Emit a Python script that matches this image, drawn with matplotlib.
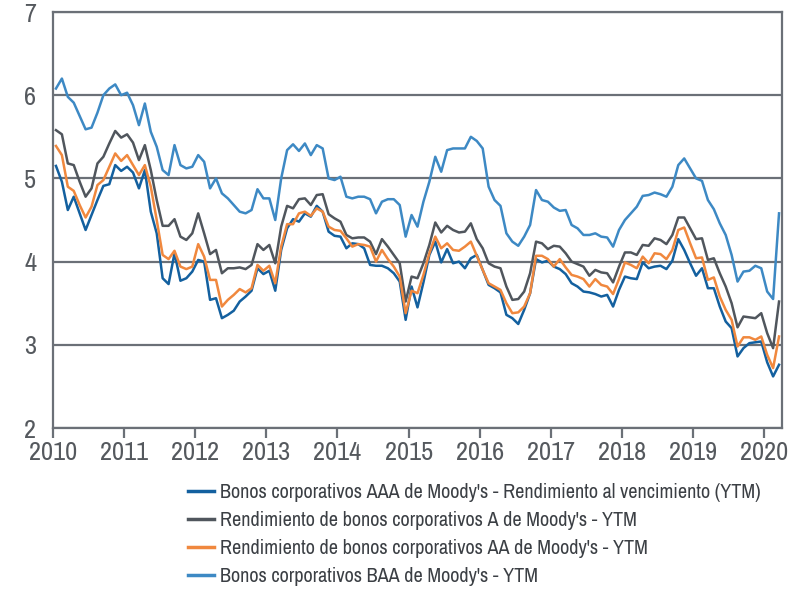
import os
import numpy as np
import matplotlib
matplotlib.use("Agg")
import matplotlib.pyplot as plt
from matplotlib import font_manager as fm

# Monthly yields, Jan 2010 - Mar 2020
aaa = [5.15, 4.96, 4.62, 4.78, 4.58, 4.38, 4.56, 4.74, 4.91, 4.93,
       5.16, 5.09, 5.14, 5.07, 4.88, 5.10, 4.60, 4.34, 3.80, 3.73,
       4.10, 3.77, 3.80, 3.88, 4.02, 4.00, 3.54, 3.56, 3.32, 3.36,
       3.41, 3.52, 3.58, 3.65, 3.92, 3.85, 3.89, 3.65, 4.14, 4.40,
       4.51, 4.48, 4.58, 4.54, 4.67, 4.60, 4.36, 4.31, 4.30, 4.16,
       4.22, 4.21, 4.16, 3.96, 3.95, 3.95, 3.92, 3.86, 3.76, 3.30,
       3.70, 3.45, 3.75, 4.08, 4.24, 3.99, 4.15, 3.98, 4.00, 3.92,
       4.04, 4.08, 3.90, 3.72, 3.68, 3.63, 3.36, 3.32, 3.25, 3.42,
       3.62, 4.03, 3.99, 4.01, 3.94, 3.91, 3.85, 3.74, 3.70, 3.64,
       3.63, 3.61, 3.58, 3.60, 3.46, 3.66, 3.82, 3.80, 3.79, 3.99,
       3.92, 3.94, 3.95, 3.91, 4.01, 4.27, 4.14, 3.98, 3.83, 3.92,
       3.68, 3.68, 3.46, 3.28, 3.20, 2.86, 2.96, 3.02, 3.03, 3.04,
       2.79, 2.62, 2.76]

a = [5.58, 5.53, 5.18, 5.16, 4.96, 4.78, 4.88, 5.18, 5.26, 5.42,
     5.57, 5.49, 5.53, 5.43, 5.22, 5.40, 5.10, 4.74, 4.43, 4.43,
     4.51, 4.30, 4.26, 4.34, 4.58, 4.34, 4.09, 4.14, 3.86, 3.92,
     3.92, 3.93, 3.91, 3.96, 4.21, 4.14, 4.20, 3.98, 4.42, 4.67,
     4.64, 4.75, 4.76, 4.68, 4.80, 4.81, 4.57, 4.52, 4.48, 4.32,
     4.28, 4.29, 4.29, 4.24, 4.09, 4.27, 4.18, 4.08, 3.98, 3.52,
     3.82, 3.80, 3.98, 4.20, 4.47, 4.35, 4.43, 4.38, 4.35, 4.36,
     4.46, 4.27, 4.16, 3.98, 3.94, 3.92, 3.70, 3.54, 3.55, 3.64,
     3.86, 4.24, 4.22, 4.15, 4.19, 4.18, 4.10, 4.00, 3.97, 3.94,
     3.83, 3.90, 3.87, 3.86, 3.75, 3.94, 4.11, 4.11, 4.08, 4.20,
     4.19, 4.28, 4.26, 4.21, 4.32, 4.53, 4.53, 4.40, 4.27, 4.28,
     4.02, 4.04, 3.86, 3.70, 3.50, 3.21, 3.34, 3.33, 3.32, 3.38,
     3.14, 2.96, 3.52]

aa = [5.39, 5.28, 4.90, 4.85, 4.68, 4.53, 4.66, 4.92, 4.98, 5.14,
      5.30, 5.21, 5.28, 5.16, 5.04, 5.16, 4.90, 4.50, 4.08, 4.03,
      4.13, 3.94, 3.91, 3.94, 4.21, 4.06, 3.78, 3.78, 3.46, 3.54,
      3.60, 3.67, 3.63, 3.68, 3.96, 3.89, 3.95, 3.74, 4.18, 4.45,
      4.45, 4.58, 4.60, 4.55, 4.64, 4.60, 4.42, 4.38, 4.37, 4.28,
      4.18, 4.21, 4.20, 4.18, 4.00, 4.14, 4.03, 3.94, 3.82, 3.38,
      3.65, 3.62, 3.84, 4.10, 4.30, 4.16, 4.22, 4.14, 4.13, 4.18,
      4.24, 4.07, 3.90, 3.74, 3.70, 3.66, 3.50, 3.38, 3.39, 3.46,
      3.62, 4.07, 4.07, 4.03, 3.94, 4.03, 3.93, 3.84, 3.82, 3.79,
      3.70, 3.79, 3.72, 3.70, 3.61, 3.79, 3.99, 3.96, 3.92, 4.06,
      3.98, 4.10, 4.09, 4.03, 4.14, 4.38, 4.41, 4.22, 4.04, 4.05,
      3.78, 3.81, 3.58, 3.42, 3.30, 2.98, 3.09, 3.09, 3.06, 3.10,
      2.88, 2.72, 3.10]

baa = [6.08, 6.20, 5.98, 5.91, 5.75, 5.59, 5.61, 5.79, 6.00, 6.08,
       6.13, 6.00, 6.03, 5.88, 5.64, 5.90, 5.56, 5.38, 5.10, 5.04,
       5.40, 5.16, 5.12, 5.14, 5.28, 5.20, 4.88, 5.00, 4.82, 4.76,
       4.68, 4.60, 4.58, 4.62, 4.87, 4.76, 4.76, 4.50, 5.00, 5.34,
       5.41, 5.33, 5.42, 5.28, 5.40, 5.36, 5.00, 4.98, 5.02, 4.78,
       4.76, 4.78, 4.78, 4.75, 4.58, 4.72, 4.75, 4.75, 4.68, 4.30,
       4.56, 4.42, 4.72, 4.96, 5.26, 5.08, 5.34, 5.36, 5.36, 5.36,
       5.50, 5.45, 5.36, 4.90, 4.74, 4.67, 4.34, 4.24, 4.19, 4.30,
       4.44, 4.86, 4.74, 4.72, 4.65, 4.61, 4.62, 4.44, 4.40, 4.32,
       4.32, 4.34, 4.30, 4.29, 4.18, 4.38, 4.50, 4.58, 4.66, 4.79,
       4.80, 4.83, 4.81, 4.78, 4.90, 5.16, 5.24, 5.12, 5.00, 4.97,
       4.74, 4.63, 4.46, 4.32, 4.08, 3.76, 3.88, 3.89, 3.95, 3.92,
       3.64, 3.55, 4.58]

labels = ["Bonos corporativos AAA de Moody's - Rendimiento al vencimiento (YTM)",
          "Rendimiento de bonos corporativos A de Moody's - YTM",
          "Rendimiento de bonos corporativos AA de Moody's - YTM",
          "Bonos corporativos BAA de Moody's - YTM"]
colors = ["#13609f", "#50565d", "#f0883e", "#3d89c4"]

years = list(range(2010, 2021))
yticks = [2, 3, 4, 5, 6, 7]

# month positions in fractional years (mid-month)
t = 2010 + (np.arange(len(aaa)) + 0.5) / 12

gray = "#6b7077"
txt = "#55595e"


# look for a narrow / condensed regular face, the chart uses a DIN-like font
def pick_font():
    prefs = ["narrow", "robotocondensed", "notosans-condensed", "opensans-condensed",
             "dejavusanscondensed", "condensed"]
    found = []
    for f in fm.fontManager.ttflist:
        fn = os.path.basename(f.fname).lower()
        if f.style != "normal":
            continue
        if any(w in fn for w in ["bold", "italic", "light", "medium", "black",
                                 "thin", "semi", "extra", "oblique"]):
            continue
        if "condensed" in fn or "narrow" in fn or f.stretch in ("condensed", "semi-condensed"):
            found.append(f.fname)
    for p in prefs:
        for fname in found:
            if p in os.path.basename(fname).lower().replace("_", "-"):
                return fname
    return found[0] if found else None


fpath = pick_font()
if fpath:
    base = fm.FontProperties(fname=fpath)
else:
    base = fm.FontProperties(family="DejaVu Sans")

fig = plt.figure(figsize=(8, 6.07), dpi=100)
ax = fig.add_axes([53 / 800, 1 - 428 / 607, 729 / 800, 416 / 607])


# scale a font size so that a sample string gets the width seen in the chart
def fit_size(sample, target_px, start):
    r = fig.canvas.get_renderer()
    fp = base.copy()
    fp.set_size(start)
    tt = fig.text(0, 0, sample, fontproperties=fp)
    w = tt.get_window_extent(r).width
    tt.remove()
    return start * target_px / w


tick_size = min(fit_size("2010", 49, 18), 19)
leg_size = min(fit_size(labels[0], 541, 14), 15)
tick_fp = base.copy()
tick_fp.set_size(tick_size)
leg_fp = base.copy()
leg_fp.set_size(leg_size)

for ys, c, lab in zip([aaa, a, aa, baa], colors, labels):
    ax.plot(t, ys, color=c, lw=1.8, label=lab)

ax.set_xlim(2010, 2020 + 3 / 12)
ax.set_ylim(2, 7)
ax.set_xticks(years)
ax.set_yticks(yticks)
ax.grid(axis='y', color=gray, lw=1.6)
ax.set_axisbelow(True)
for s in ax.spines.values():
    s.set_color(gray)
    s.set_linewidth(1.6)
ax.tick_params(axis='x', direction='out', length=7, width=1.6, color=gray,
               labelcolor=txt, pad=2)
ax.tick_params(axis='y', length=0, labelcolor=txt, pad=12)
for lb in ax.get_xticklabels() + ax.get_yticklabels():
    lb.set_fontproperties(tick_fp)

leg = fig.legend(loc='upper left', bbox_to_anchor=(188 / 800, 1 - 483 / 607),
                 frameon=False, prop=leg_fp, handlelength=1.3, handletextpad=0.3,
                 labelspacing=0.45, borderaxespad=0, borderpad=0)
for ln in leg.get_lines():
    ln.set_linewidth(2.5)
for tx in leg.get_texts():
    tx.set_color("#3b3f44")

fig.savefig("out.png", dpi=100)
